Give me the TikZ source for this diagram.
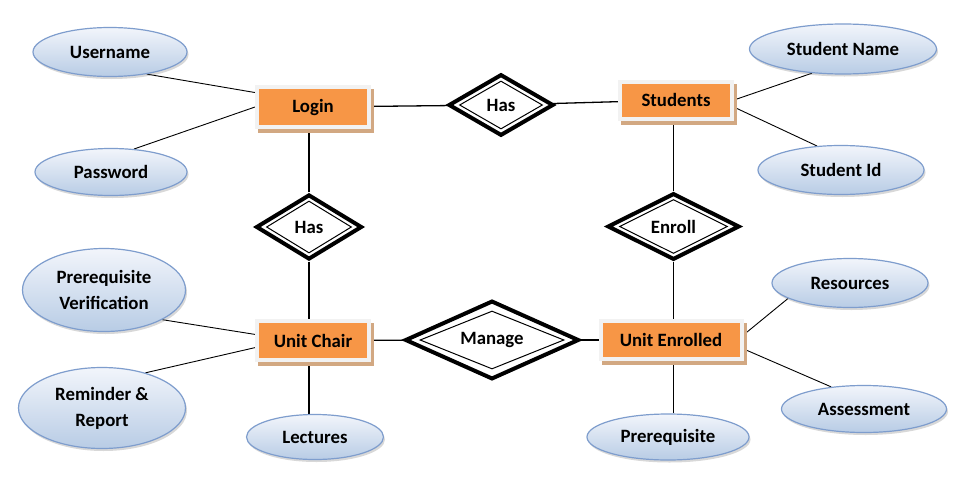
\documentclass[tikz,border=0pt]{standalone}
\usepackage{fontspec}
\setmainfont{Carlito}
\usetikzlibrary{shapes.geometric,shadows}
\pgfdeclarelayer{background}
\pgfsetlayers{background,main}
\definecolor{entorange}{RGB}{247,150,70}
\definecolor{framegray}{RGB}{242,242,242}
\definecolor{shadowtan}{RGB}{210,168,130}
\definecolor{attrborder}{RGB}{126,157,205}
\definecolor{attrtop}{RGB}{242,245,251}
\definecolor{attrbot}{RGB}{184,204,229}
\begin{document}
\begin{tikzpicture}[x=1pt,y=-1pt,
  lbl/.style={font=\bfseries\fontsize{18.8}{26}\selectfont, text=black, align=center},
  entity/.style={lbl, rectangle, fill=entorange, draw=framegray, line width=4pt, inner sep=0pt,
    minimum width=112pt, minimum height=39pt,
    drop shadow={shadow xshift=3pt, shadow yshift=-4pt, fill=shadowtan, draw=shadowtan, line width=4pt, opacity=1}},
  rel/.style={lbl, shape=diamond, draw=black, line width=4pt, fill=white, inner sep=0pt},
  relin/.style={shape=diamond, draw=black, line width=1pt, inner sep=0pt},
  attr/.style={lbl, ellipse, draw=attrborder, line width=1.2pt, top color=attrtop, bottom color=attrbot, inner sep=0pt,
    drop shadow={shadow xshift=1.5pt, shadow yshift=-2.5pt, opacity=0.25, fill=black!60}},
  link/.style={line width=1.3pt},
  alink/.style={line width=0.9pt}]
\useasboundingbox (0,0) rectangle (967,490);
\begin{pgfonlayer}{background}
\fill[white] (0,0) rectangle (967,490);
\end{pgfonlayer}

% entities
\node[entity, minimum height=40pt] (login) at (313,107) {Login};
\node[entity, minimum height=37pt] (students) at (676,100) {Students};
\node[entity] (uc) at (313,340.5) {Unit Chair};
\node[entity, minimum width=141pt, minimum height=38pt] (ue) at (671,340) {Unit Enrolled};

% relationships
\node[rel, minimum width=105pt, minimum height=61.5pt] (has1) at (501,105) {Has};
\node[relin, minimum width=83pt, minimum height=48pt] (has1i) at (501,105) {};
\node[rel, minimum width=106pt, minimum height=65pt] (has2) at (309,227) {Has};
\node[relin, minimum width=85pt, minimum height=52pt] (has2i) at (309,227) {};
\node[rel, minimum width=132pt, minimum height=66.5pt] (enroll) at (673.5,226.5) {Enroll};
\node[relin, minimum width=108pt, minimum height=54pt] (enrolli) at (673.5,226.5) {};
\node[rel, minimum width=174pt, minimum height=70pt] (manage) at (492,340) {Manage};
\node[relin, minimum width=144pt, minimum height=58pt] (managei) at (492,340) {};

% attributes
\node[attr, minimum width=154pt, minimum height=49pt] (username) at (110,52) {Username};
\node[attr, minimum width=152pt, minimum height=47pt] (password) at (111,172) {Password};
\node[attr, minimum width=187pt, minimum height=50pt] (sname) at (843,49) {Student Name};
\node[attr, minimum width=166pt, minimum height=49pt] (sid) at (841,170) {Student Id};
\node[attr, minimum width=163pt, minimum height=83pt] (prever) at (104,290) {Prerequisite\\Verification};
\node[attr, minimum width=167pt, minimum height=81pt] (remind) at (102,408) {Reminder \&\\Report};
\node[attr, minimum width=137pt, minimum height=45pt] (lectures) at (315,437) {Lectures};
\node[attr, minimum width=156pt, minimum height=49pt] (resources) at (850,283) {Resources};
\node[attr, minimum width=165pt, minimum height=47pt] (assessment) at (864,409) {Assessment};
\node[attr, minimum width=162pt, minimum height=46pt] (prereq) at (668,437) {Prerequisite};

\begin{pgfonlayer}{background}
\draw[link] (login) -- (has1);
\draw[link] (has1) -- (students);
\draw[link] (has2) -- (has2 |- login.south);
\draw[link] (has2) -- (has2 |- uc.north);
\draw[link] (uc) -- (manage);
\draw[link] (manage) -- (ue);
\draw[link] (enroll) -- (enroll |- students.south);
\draw[link] (enroll) -- (enroll |- ue.north);
\draw[alink] (username.329) -- (login.166);
\draw[alink] (password.45) -- (login.west);
\draw[alink] (sname.218) -- (students.east);
\draw[alink] (sid.135) -- (students.353);
\draw[alink] (prever.333) -- (uc.174);
\draw[alink] (remind.39) -- (uc.187);
\draw[link] (uc.south -| has2) -- (lectures.north -| has2);
\draw[alink] (resources.194) -- (ue.4);
\draw[alink] (assessment.146) -- (ue.353);
\draw[link] (ue.south -| enroll) -- (prereq.north -| enroll);
\end{pgfonlayer}
\end{tikzpicture}
\end{document}
